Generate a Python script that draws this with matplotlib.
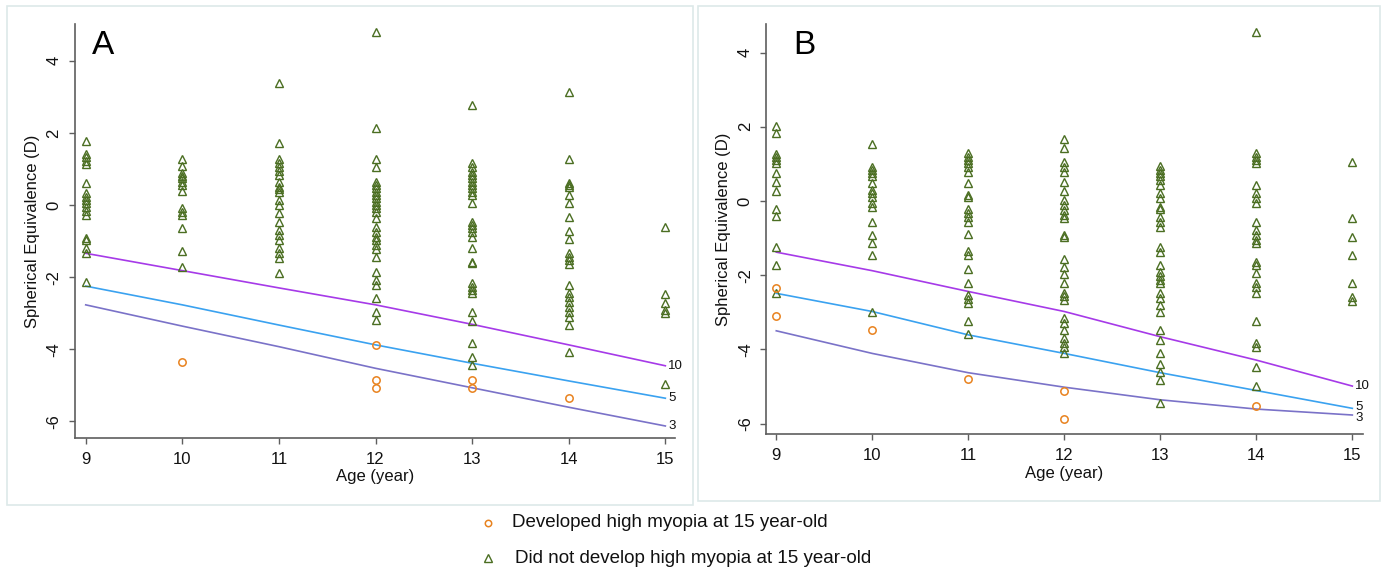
import matplotlib
matplotlib.use("Agg")
import matplotlib.pyplot as plt
from matplotlib.lines import Line2D
from matplotlib.patches import Rectangle

plt.rcParams['font.family'] = ['Liberation Sans', 'DejaVu Sans']

ages = [9, 10, 11, 12, 13, 14, 15]
x_ticks = [9, 10, 11, 12, 13, 14, 15]
y_ticks = [-6, -4, -2, 0, 2, 4]
line_labels = ["10", "5", "3"]
legend_labels = ["Developed high myopia at 15 year-old",
                 "Did not develop high myopia at 15 year-old"]

# ---------------- Panel A ----------------
a_not_9 = [1.78, 1.41, 1.32, 1.22, 1.13, 0.60, 0.34, 0.23, 0.14, 0.05, -0.05,
           -0.17, -0.28, -0.92, -0.97, -1.20, -1.34, -2.15]
a_not_10 = [1.28, 1.09, 0.88, 0.80, 0.74, 0.65, 0.55, 0.40, -0.09, -0.19, -0.28,
            -0.65, -1.27, -1.71]
a_not_11 = [3.39, 1.71, 1.27, 1.16, 1.06, 0.95, 0.83, 0.65, 0.51, 0.43, 0.37, 0.14,
            0.00, -0.23, -0.46, -0.69, -0.83, -0.97, -1.20, -1.34, -1.48, -1.89]
a_not_12 = [4.79, 2.14, 1.27, 1.04, 0.65, 0.55, 0.46, 0.37, 0.28, 0.18, 0.09, 0.00,
            -0.09, -0.19, -0.37, -0.60, -0.74, -0.88, -0.97, -1.11, -1.23, -1.43,
            -1.85, -2.08, -2.22, -2.59, -2.96, -3.19]
a_not_13 = [2.77, 1.16, 1.06, 0.92, 0.83, 0.74, 0.65, 0.55, 0.46, 0.37, 0.28, 0.05,
            -0.46, -0.55, -0.65, -0.74, -0.88, -1.20, -1.57, -1.62, -2.17, -2.27,
            -2.36, -2.45, -2.96, -3.21, -3.82, -4.21, -4.44]
a_not_14 = [3.14, 1.28, 0.60, 0.55, 0.51, 0.28, 0.05, -0.34, -0.71, -0.95, -1.32,
            -1.43, -1.53, -1.64, -2.22, -2.45, -2.56, -2.68, -2.82, -2.96, -3.10,
            -3.33, -4.07]
a_not_15 = [-0.60, -2.47, -2.73, -2.91, -2.99, -4.97]
a_dev_age = [10, 12, 12, 12, 13, 13, 14]
a_dev_se = [-4.36, -3.87, -4.85, -5.09, -4.85, -5.09, -5.36]
a_p10 = [-1.34, -1.82, -2.30, -2.77, -3.31, -3.88, -4.46]
a_p5 = [-2.25, -2.77, -3.33, -3.88, -4.39, -4.88, -5.36]
a_p3 = [-2.77, -3.36, -3.93, -4.53, -5.07, -5.61, -6.13]

# ---------------- Panel B ----------------
b_not_9 = [2.02, 1.84, 1.27, 1.18, 1.11, 1.02, 0.76, 0.52, 0.28, -0.22, -0.40,
           -1.23, -1.73, -2.49]
b_not_10 = [1.54, 0.92, 0.84, 0.75, 0.66, 0.48, 0.30, 0.21, 0.12, -0.06, -0.15,
            -0.58, -0.92, -1.14, -1.46, -2.98]
b_not_11 = [1.29, 1.19, 1.11, 1.02, 0.92, 0.79, 0.48, 0.16, 0.10, -0.22, -0.33,
            -0.44, -0.56, -0.89, -1.34, -1.46, -1.84, -2.22, -2.53, -2.65, -2.76,
            -3.23, -3.59]
b_not_12 = [1.66, 1.42, 1.04, 0.92, 0.79, 0.52, 0.28, 0.03, -0.11, -0.24, -0.38,
            -0.47, -0.92, -0.96, -1.57, -1.77, -1.97, -2.20, -2.49, -2.56, -2.67,
            -3.16, -3.30, -3.48, -3.70, -3.82, -3.93, -4.09]
b_not_13 = [0.94, 0.84, 0.75, 0.66, 0.57, 0.43, 0.22, 0.07, -0.17, -0.22, -0.44,
            -0.56, -0.69, -1.23, -1.37, -1.73, -1.91, -2.02, -2.13, -2.22, -2.49,
            -2.62, -2.80, -2.98, -3.48, -3.75, -4.11, -4.39, -4.60, -4.82, -5.45]
b_not_14 = [4.55, 1.29, 1.19, 1.11, 1.02, 0.43, 0.21, 0.07, -0.06, -0.58, -0.78,
            -0.92, -1.05, -1.14, -1.64, -1.73, -1.95, -2.22, -2.33, -2.47, -3.23,
            -3.84, -3.93, -4.47, -4.99]
b_not_15 = [1.04, -0.47, -0.96, -1.46, -2.22, -2.58, -2.71]
b_dev_age = [9, 9, 10, 11, 12, 12, 14]
b_dev_se = [-2.35, -3.10, -3.48, -4.81, -5.11, -5.88, -5.54]
b_p10 = [-1.38, -1.88, -2.44, -2.98, -3.66, -4.29, -4.99]
b_p5 = [-2.49, -2.98, -3.61, -4.11, -4.63, -5.11, -5.59]
b_p3 = [-3.50, -4.11, -4.63, -5.02, -5.36, -5.61, -5.77]

GREEN = '#4b6e22'
ORANGE = '#e8821e'
C10 = '#a63ae8'
C5 = '#3aa2f0'
C3 = '#7a72c8'
SPINE = '#5e5e5e'
BORDER = '#dde9e9'

W, H = 1383, 571
fig = plt.figure(figsize=(W / 100, H / 100), dpi=100)
fig.patch.set_facecolor('white')


def px_rect(x0, y0, x1, y1):
    # pixel coords (top-origin) -> figure fraction [left, bottom, width, height]
    return [x0 / W, 1 - y1 / H, (x1 - x0) / W, (y1 - y0) / H]


# panel borders
for (x0, y0, x1, y1) in [(7, 6, 693, 505), (698, 6, 1380, 501)]:
    r = px_rect(x0, y0, x1, y1)
    fig.add_artist(Rectangle((r[0], r[1]), r[2], r[3], transform=fig.transFigure,
                             fill=False, edgecolor=BORDER, linewidth=1.2))

panels = [
    dict(rect=px_rect(74.7, 24, 675, 437.7), xlim=(8.886, 15.10), ylim=(-6.455, 5.02),
         nots=[a_not_9, a_not_10, a_not_11, a_not_12, a_not_13, a_not_14, a_not_15],
         dev_age=a_dev_age, dev_se=a_dev_se, lines=[a_p10, a_p5, a_p3], letter='A',
         letter_x=0.029, label_dy=[0, 0, 0]),
    dict(rect=px_rect(766, 24, 1362.7, 434.3), xlim=(8.893, 15.108), ylim=(-6.29, 4.77),
         nots=[b_not_9, b_not_10, b_not_11, b_not_12, b_not_13, b_not_14, b_not_15],
         dev_age=b_dev_age, dev_se=b_dev_se, lines=[b_p10, b_p5, b_p3], letter='B',
         letter_x=0.046, label_dy=[0, 1, -2]),
]

for p in panels:
    ax = fig.add_axes(p['rect'])
    ax.set_facecolor('none')
    for s in ['top', 'right']:
        ax.spines[s].set_visible(False)
    for s in ['left', 'bottom']:
        ax.spines[s].set_color(SPINE)
        ax.spines[s].set_linewidth(1.2)
    ax.set_xlim(*p['xlim'])
    ax.set_ylim(*p['ylim'])
    ax.set_xticks(x_ticks)
    ax.set_yticks(y_ticks)
    ax.set_xticklabels([str(t) for t in x_ticks])
    ax.set_yticklabels([str(t) for t in y_ticks], rotation=90, va='center')
    ax.tick_params(axis='both', direction='out', length=4.5, width=1.0, color=SPINE,
                   labelsize=12, labelcolor='#111111')
    ax.tick_params(axis='x', pad=5.5)
    ax.tick_params(axis='y', pad=5)
    ax.set_xlabel('Age (year)', fontsize=12, labelpad=2, color='#111111')
    ax.set_ylabel('Spherical Equivalence (D)', fontsize=12, labelpad=5, color='#111111')

    colors = [C10, C5, C3]
    for vals, c, lab, dy in zip(p['lines'], colors, line_labels, p['label_dy']):
        ax.plot(ages, vals, color=c, linewidth=1.2, zorder=2)
        ax.annotate(lab, xy=(ages[-1], vals[-1]), xytext=(2, dy),
                    textcoords='offset points', ha='left', va='center',
                    fontsize=9.5, color='#111111')

    for age, vals in zip(ages, p['nots']):
        ax.plot([age] * len(vals), vals, linestyle='none', marker='^', markersize=6.2,
                markerfacecolor='none', markeredgecolor=GREEN, markeredgewidth=1.0,
                zorder=3)
    ax.plot(p['dev_age'], p['dev_se'], linestyle='none', marker='o', markersize=5.3,
            markerfacecolor='none', markeredgecolor=ORANGE, markeredgewidth=1.1,
            zorder=4)
    ax.text(p['letter_x'], 0.985, p['letter'], transform=ax.transAxes, fontsize=24,
            ha='left', va='top', color='black')

# legend
fig.add_artist(Line2D([488.3 / W], [1 - 522.7 / H], transform=fig.transFigure,
                      marker='o', markersize=4.6, markerfacecolor='none',
                      markeredgecolor=ORANGE, markeredgewidth=1.1, linestyle='none'))
fig.add_artist(Line2D([488.3 / W], [1 - 558.3 / H], transform=fig.transFigure,
                      marker='^', markersize=5.2, markerfacecolor='none',
                      markeredgecolor=GREEN, markeredgewidth=1.0, linestyle='none'))
fig.text(512.5 / W, 1 - 522.7 / H, legend_labels[0], fontsize=13.5, ha='left',
         va='center', color='#111111')
fig.text(515 / W, 1 - 558.3 / H, legend_labels[1], fontsize=13.5, ha='left',
         va='center', color='#111111')

fig.savefig('out.png', dpi=100, facecolor='white')
